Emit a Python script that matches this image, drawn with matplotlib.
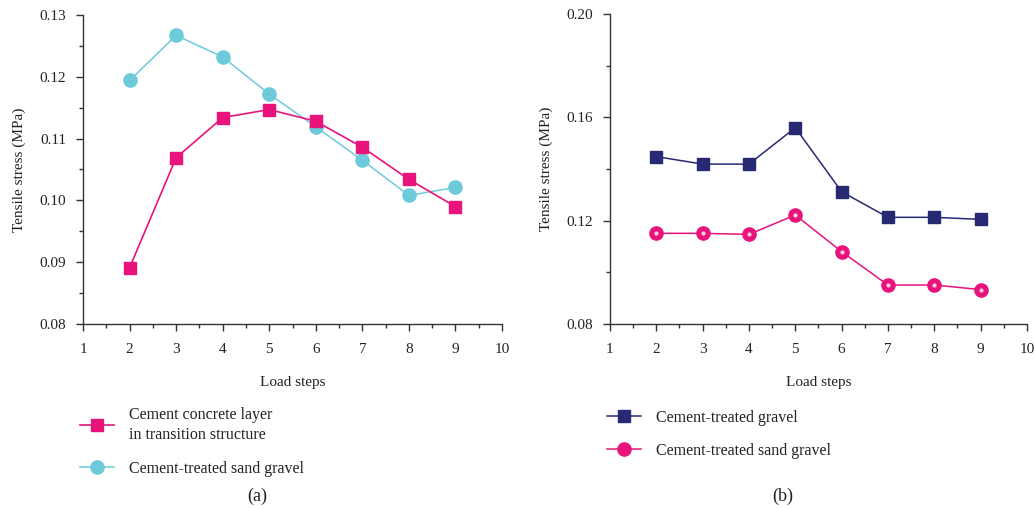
import matplotlib
matplotlib.use("Agg")
import matplotlib.pyplot as plt
from matplotlib.ticker import MultipleLocator

plt.rcParams['font.family'] = ['Liberation Serif', 'DejaVu Serif']

steps = [2, 3, 4, 5, 6, 7, 8, 9]

# Panel (a)
a_concrete = [0.0891, 0.1069, 0.1134, 0.1147, 0.1128, 0.1086, 0.1034, 0.0990]
a_sand = [0.1194, 0.1267, 0.1232, 0.1172, 0.1119, 0.1065, 0.1008, 0.1021]

# Panel (b)
b_gravel = [0.1448, 0.1419, 0.1419, 0.1560, 0.1312, 0.1213, 0.1213, 0.1205]
b_sand = [0.1151, 0.1151, 0.1147, 0.1222, 0.1080, 0.0951, 0.0951, 0.0933]

label_a1 = "Cement concrete layer\nin transition structure"
label_a2 = "Cement-treated sand gravel"
label_b1 = "Cement-treated gravel"
label_b2 = "Cement-treated sand gravel"

PINK = "#E8137B"
CYAN = "#6DCADB"
NAVY = "#272A72"
AXC = "#333333"
TXT = "#222222"
FS = 11
LFS = 11.5

fig = plt.figure(figsize=(10.34, 5.08), dpi=100)
axa = fig.add_axes([0.0803, 0.3622, 0.4052, 0.6083])
axb = fig.add_axes([0.5899, 0.3622, 0.4033, 0.6102])

def style(ax):
    for s in ['top', 'right']:
        ax.spines[s].set_visible(False)
    for s in ['left', 'bottom']:
        ax.spines[s].set_color(AXC)
        ax.spines[s].set_linewidth(1.0)
    ax.tick_params(which='major', direction='out', length=5, width=1.0, color=AXC,
                   labelsize=FS, labelcolor=TXT)
    ax.tick_params(axis='x', which='major', pad=9)
    ax.tick_params(axis='y', which='major', pad=7)
    ax.tick_params(which='minor', direction='out', length=3, width=1.0, color=AXC)
    ax.set_xlim(1, 10)
    ax.xaxis.set_major_locator(MultipleLocator(1))
    ax.xaxis.set_minor_locator(MultipleLocator(0.5))
    ax.set_xlabel("Load steps", fontsize=FS, color=TXT, labelpad=14)
    ax.set_ylabel("Tensile stress (MPa)", fontsize=FS, color=TXT, labelpad=10)

style(axa)
axa.set_ylim(0.08, 0.13)
axa.yaxis.set_major_locator(MultipleLocator(0.01))
axa.yaxis.set_minor_locator(MultipleLocator(0.005))
axa.yaxis.set_major_formatter(plt.FormatStrFormatter('%.2f'))
l1, = axa.plot(steps, a_concrete, color=PINK, lw=1.2, marker='s', ms=8, mec=PINK, mfc=PINK,
               label=label_a1, zorder=3)
l2, = axa.plot(steps, a_sand, color=CYAN, lw=1.1, marker='o', ms=9.5, mec=CYAN, mfc=CYAN,
               label=label_a2, zorder=2)

style(axb)
axb.set_ylim(0.08, 0.20)
axb.yaxis.set_major_locator(MultipleLocator(0.04))
axb.yaxis.set_minor_locator(MultipleLocator(0.02))
axb.yaxis.set_major_formatter(plt.FormatStrFormatter('%.2f'))
m1, = axb.plot(steps, b_gravel, color=NAVY, lw=1.1, marker='s', ms=9, mec=NAVY, mfc=NAVY,
               label=label_b1, zorder=3)
m2, = axb.plot(steps, b_sand, color=PINK, lw=1.1, marker='o', ms=9.5, mec=PINK, mfc=PINK,
               label=label_b2, zorder=3)
axb.plot(steps, b_sand, ls='none', marker='o', ms=3.0, mec='none', mfc='#F9D0E3', zorder=4)

leg_a = fig.legend(handles=[l1, l2], loc='upper left', bbox_to_anchor=(0.0774, 0.199),
                   frameon=False, fontsize=LFS, handlelength=2.1, handletextpad=0.95,
                   labelspacing=1.1, labelcolor=TXT, borderaxespad=0, borderpad=0)
for t in leg_a.get_texts():
    t.set_linespacing(1.35)
leg_b = fig.legend(handles=[m1, m2], loc='upper left', bbox_to_anchor=(0.587, 0.193),
                   frameon=False, fontsize=LFS, handlelength=2.15, handletextpad=0.9,
                   labelspacing=1.05, labelcolor=TXT, borderaxespad=0, borderpad=0)

fig.text(0.2486, 0.006, "(a)", fontsize=13, color=TXT, ha='center', va='bottom')
fig.text(0.7573, 0.006, "(b)", fontsize=13, color=TXT, ha='center', va='bottom')

fig.savefig("out.png", dpi=100, facecolor='white')
